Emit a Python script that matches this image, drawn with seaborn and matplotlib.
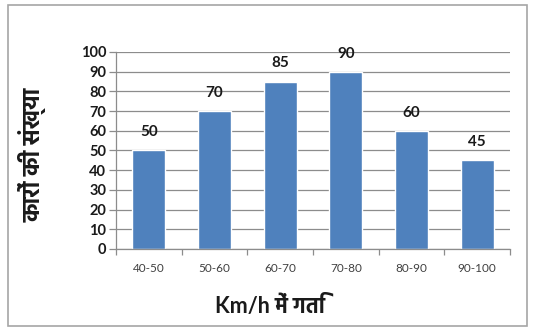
import matplotlib
matplotlib.use("Agg")
import matplotlib.pyplot as plt
from matplotlib import font_manager as fm
from matplotlib.patches import Rectangle
import seaborn as sns
import pandas as pd

categories = ["40-50", "50-60", "60-70", "70-80", "80-90", "90-100"]
values = [50, 70, 85, 90, 60, 45]
y_ticks = [0, 10, 20, 30, 40, 50, 60, 70, 80, 90, 100]
x_title = "Km/h में गति"
y_title = "कारों की संख्या"

bold_fams = {f.name for f in fm.fontManager.ttflist
             if (isinstance(f.weight, int) and f.weight >= 700) or f.weight in ("bold", "heavy", "black")}
all_fams = {f.name for f in fm.fontManager.ttflist}
prefs = ["Noto Sans Devanagari", "Hind", "Mukta", "Biryani", "Arya", "Karma", "Annapurna SIL"]
deva = None
for cand in prefs:
    if cand in bold_fams:
        deva = cand
        break
if deva is None:
    for cand in prefs:
        if cand in all_fams:
            deva = cand
            break
latin = "Lato" if "Lato" in all_fams else "DejaVu Sans"
fam = [latin] + ([deva] if deva else []) + ["DejaVu Sans"]
deva_fam = ([deva] if deva else []) + [latin, "DejaVu Sans"]

sns.set_style("white")
plt.rcParams['font.family'] = fam

df = pd.DataFrame({"speed": categories, "cars": values})

fig = plt.figure(figsize=(5.33, 3.31), dpi=100)
fig.patches.append(Rectangle((8/533, 1 - 326/331), 519/533, 321/331, transform=fig.transFigure,
                             fill=False, edgecolor="#a6a6a6", linewidth=1.2))
ax = fig.add_axes([116/533, 1 - 249/331, (510 - 116)/533, (249 - 52)/331])
sns.barplot(data=df, x="speed", y="cars", color="#4F81BD", saturation=1, width=0.5, ax=ax)

ax.set_ylim(0, 100)
ax.set_xlim(-0.5, len(categories) - 0.5)
ax.set_yticks(y_ticks)
ax.set_yticklabels([str(t) for t in y_ticks], fontsize=10.5, fontweight="bold", color="#1a1a1a")
ax.yaxis.grid(True, color="#8c8c8c", linewidth=0.9)
ax.set_axisbelow(True)
ax.tick_params(axis="y", length=5, color="#8c8c8c", width=0.9, pad=2, left=True)
ax.set_xticks(range(len(categories)))
ax.set_xticklabels(categories, fontsize=8.5, color="#404040")
ax.set_xticks([i + 0.5 for i in range(-1, len(categories))], minor=True)
ax.tick_params(axis="x", which="major", length=0, pad=10)
ax.tick_params(axis="x", which="minor", length=4, color="#8c8c8c", width=0.9, bottom=True)
for s in ["top", "right"]:
    ax.spines[s].set_visible(False)
for s in ["left", "bottom"]:
    ax.spines[s].set_color("#8c8c8c")
    ax.spines[s].set_linewidth(0.9)

for i, v in enumerate(values):
    ax.annotate(str(v), (i, v), xytext=(0, 8), textcoords="offset points",
                ha="center", va="bottom", fontsize=11, fontweight="bold", color="#1a1a1a")

ax.set_xlabel("")
ax.set_ylabel("")
fig.text(270/533, 1 - 306/331, x_title, ha="center", va="center", fontsize=15.5,
         fontweight="bold", family=fam, color="#1a1a1a")
fig.text(33/533, 1 - 155/331, y_title, ha="center", va="center", rotation=90, fontsize=16.5,
         fontweight="bold", family=deva_fam, color="#1a1a1a")

fig.savefig("out.png", dpi=100)
